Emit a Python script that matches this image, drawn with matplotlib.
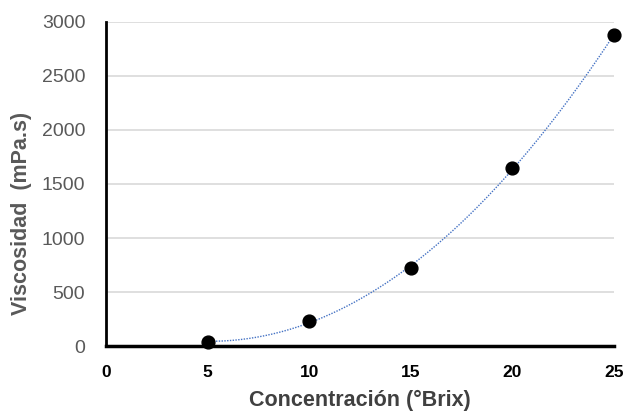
import numpy as np
from matplotlib import pyplot as plt

conc = [5, 10, 15, 20, 25]
visc = [40, 232, 723, 1647, 2880]
xticks = [0, 5, 10, 15, 20, 25]
yticks = [0, 500, 1000, 1500, 2000, 2500, 3000]

plt.rcParams['font.family'] = ['Liberation Sans', 'DejaVu Sans']

fig = plt.figure(figsize=(6.24, 4.13), dpi=100)
ax = fig.add_axes([0.170, 0.162, 0.814, 0.785])

# trend line (2nd order polynomial)
coef = np.polyfit(conc, visc, 2)
xs = np.linspace(5, 25, 200)
ax.plot(xs, np.polyval(coef, xs), color='#4472c4', lw=1.0, ls=(0, (1, 1)), zorder=2)

ax.scatter(conc, visc, s=85, color='black', zorder=3, clip_on=False)

ax.set_xlim(0, 25)
ax.set_ylim(0, 3000)
ax.set_xticks(xticks)
ax.set_yticks(yticks)
ax.grid(axis='y', color='#d9d9d9', lw=1.2)
ax.set_axisbelow(True)

for s in ['top', 'right']:
    ax.spines[s].set_visible(False)
ax.spines['left'].set_linewidth(2)
ax.spines['bottom'].set_linewidth(2.5)
ax.tick_params(length=0)
ax.tick_params(axis='x', pad=13.5, labelsize=12.5, labelcolor='black')
ax.tick_params(axis='y', pad=15, labelsize=14, labelcolor='#595959')
for t in ax.get_xticklabels():
    t.set_fontweight('bold')

ax.set_xlabel('Concentración (°Brix)', fontsize=15.5, fontweight='bold',
              color='#404040', labelpad=7)
ax.set_ylabel('Viscosidad  (mPa.s)', fontsize=15.5, fontweight='bold',
              color='#595959')
ax.yaxis.set_label_coords(-0.145, 0.41)

plt.savefig('out.png', dpi=100)
